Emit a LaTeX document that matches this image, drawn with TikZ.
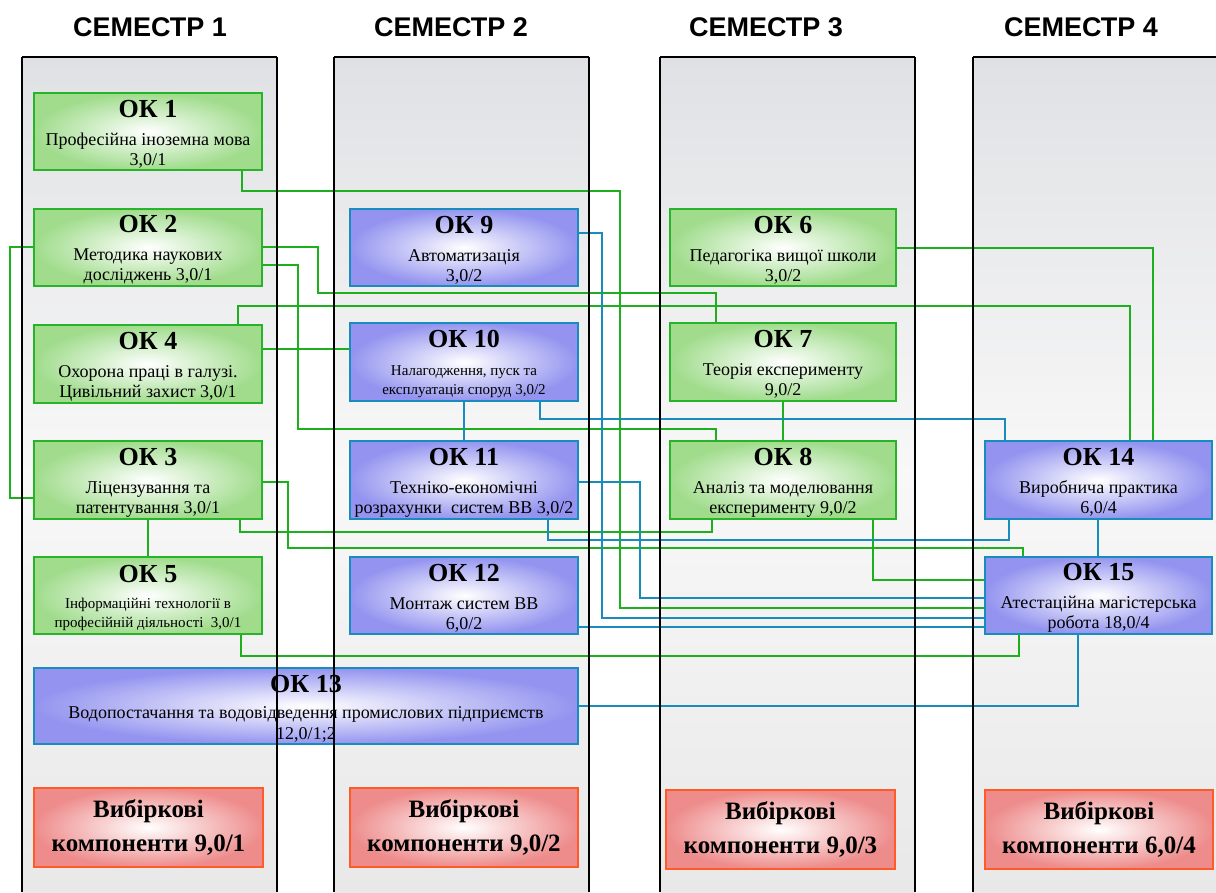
\documentclass[tikz,border=0pt]{standalone}
\usepackage{fontspec}
\setmainfont{Liberation Serif}
\newfontfamily\hdrfont{Liberation Sans}
\definecolor{gline}{RGB}{30,175,30}
\definecolor{gborder}{RGB}{40,180,40}
\definecolor{gfill}{RGB}{160,220,140}
\definecolor{bline}{RGB}{25,140,190}
\definecolor{bfill}{RGB}{148,148,240}
\definecolor{rborder}{RGB}{255,90,40}
\definecolor{rfill}{RGB}{238,140,140}
\definecolor{colA}{RGB}{224,225,228}
\definecolor{colB}{RGB}{248,248,248}
\definecolor{colC}{RGB}{232,232,232}
\newcommand\oktitle[1]{{\fontsize{26}{26}\selectfont\bfseries\rule{0pt}{22pt}#1}}
\begin{document}
\begin{tikzpicture}[x=1pt,y=-1pt,
  box/.style={draw, line width=1.7pt, inner sep=0pt, align=center,
    font=\fontsize{18}{20}\selectfont, minimum height=77pt},
  gbox/.style={box, draw=gborder, inner color=white, outer color=gfill},
  bbox/.style={box, draw=bline, inner color=white, outer color=bfill},
  rbox/.style={box, draw=rborder, inner color=white, outer color=rfill,
    font=\fontsize{25}{34}\selectfont\bfseries, minimum height=79pt},
  gcon/.style={draw=gline, line width=1.8pt},
  bcon/.style={draw=bline, line width=1.8pt},
  colpanel/.style={top color=colA, bottom color=colC, middle color=colB},
  colborder/.style={draw=black, line width=1.4pt},
  coltop/.style={draw=black, line width=2.4pt},
  hdr/.style={font=\hdrfont\bfseries\fontsize{27}{30}\selectfont, inner sep=0pt}
]
\useasboundingbox (0,0) rectangle (1216,892);
\clip (0,0) rectangle (1216,892);

% semester panels
\fill[colpanel] (22,57) rectangle (277,892);
\fill[colpanel] (334,57) rectangle (589,892);
\fill[colpanel] (660,57) rectangle (915,892);
\fill[colpanel] (973,57) rectangle (1230,892);

% headers
\node[hdr] (h1) at (150,27) {СЕМЕСТР 1};
\node[hdr] (h2) at (451,27) {СЕМЕСТР 2};
\node[hdr] (h3) at (766,27) {СЕМЕСТР 3};
\node[hdr] (h4) at (1081,27) {СЕМЕСТР 4};

% boxes, semester 1
\node[gbox, minimum width=228pt] (ok1) at (148,131.5) {\oktitle{ОК 1}\\[8pt]Професійна іноземна мова\\3,0/1};
\node[gbox, minimum width=228pt] (ok2) at (148,247.5) {\oktitle{ОК 2}\\[8pt]Методика наукових\\досліджень 3,0/1};
\node[gbox, minimum width=228pt, minimum height=78pt] (ok4) at (148,364) {\oktitle{ОК 4}\\[8pt]Охорона праці в галузі.\\Цивільний захист 3,0/1};
\node[gbox, minimum width=228pt, minimum height=78pt] (ok3) at (148,480) {\oktitle{ОК 3}\\[8pt]Ліцензування та\\патентування 3,0/1};
\node[gbox, minimum width=228pt, font=\fontsize{15}{19}\selectfont] (ok5) at (148,595.5) {\oktitle{ОК 5}\\[7pt]Інформаційні технології в\\професійній діяльності~~3,0/1};
\node[bbox, minimum width=544pt, minimum height=76pt, font=\fontsize{18}{21}\selectfont] (ok13) at (306,706) {\oktitle{ОК 13}\\[5pt]Водопостачання та водовідведення промислових підприємств\\12,0/1;2};
\node[rbox, minimum width=229pt] (v1) at (148.5,827.5) {Вибіркові\\компоненти 9,0/1};

% semester 2
\node[bbox, minimum width=228pt] (ok9) at (464,247.5) {\oktitle{ОК 9}\\[8pt]Автоматизація\\3,0/2};
\node[bbox, minimum width=228pt, minimum height=78pt, font=\fontsize{15}{19}\selectfont] (ok10) at (464,362) {\oktitle{ОК 10}\\[9pt]Налагодження, пуск та\\експлуатація споруд 3,0/2};
\node[bbox, minimum width=228pt, minimum height=78pt] (ok11) at (464,480) {\oktitle{ОК 11}\\[8pt]Техніко-економічні\\розрахунки~~систем ВВ 3,0/2};
\node[bbox, minimum width=228pt] (ok12) at (464,595.5) {\oktitle{ОК 12}\\[8pt]Монтаж систем ВВ\\6,0/2};
\node[rbox, minimum width=228pt] (v2) at (464,827.5) {Вибіркові\\компоненти 9,0/2};

% semester 3
\node[gbox, minimum width=226pt] (ok6) at (783,247.5) {\oktitle{ОК 6}\\[8pt]Педагогіка вищої школи\\3,0/2};
\node[gbox, minimum width=226pt, minimum height=78pt] (ok7) at (783,362) {\oktitle{ОК 7}\\[8pt]Теорія експерименту\\9,0/2};
\node[gbox, minimum width=226pt, minimum height=78pt] (ok8) at (783,480) {\oktitle{ОК 8}\\[8pt]Аналіз та моделювання\\експерименту 9,0/2};
\node[rbox, minimum width=229pt] (v3) at (780.5,829.5) {Вибіркові\\компоненти 9,0/3};

% semester 4
\node[bbox, minimum width=227pt, minimum height=78pt] (ok14) at (1098.5,480) {\oktitle{ОК 14}\\[8pt]Виробнича практика\\6,0/4};
\node[bbox, minimum width=227pt] (ok15) at (1098.5,595.5) {\oktitle{ОК 15}\\[8pt]Атестаційна магістерська\\робота 18,0/4};
\node[rbox, minimum width=228pt] (v4) at (1099,829.5) {Вибіркові\\компоненти 6,0/4};

% green connectors
\draw[gcon] (ok1.south -| 242,0) |- (620,191) |- (ok15.west |- 0,608);
\draw[gcon] (ok2.east |- 0,247) -| (318,293) -| (ok7.north -| 716,0);
\draw[gcon] (ok2.east |- 0,265) -| (298,429) -| (ok8.north -| 716,0);
\draw[gcon] (ok2.west |- 0,247) -| (10,498) -- (ok3.west |- 0,498);
\draw[gcon] (ok4.east |- 0,349) -- (ok10.west |- 0,349);
\draw[gcon] (ok4.north -| 238,0) |- (1130,306) -- (ok14.north -| 1130,0);
\draw[gcon] (ok3.south) -- (ok5.north);
\draw[gcon] (ok3.east |- 0,482) -| (288,548) -| (ok15.north -| 1023,0);
\draw[gcon] (ok3.south -| 240,0) |- (712,532) -- (ok8.south -| 712,0);
\draw[gcon] (ok5.south -| 241,0) |- (1019,656) -- (ok15.south -| 1019,0);
\draw[gcon] (ok6.east |- 0,248) -| (ok14.north -| 1153,0);
\draw[gcon] (ok7.south) -- (ok8.north);
\draw[gcon] (ok8.south -| 873,0) |- (ok15.west |- 0,580);

% blue connectors
\draw[bcon] (ok9.east |- 0,233) -| (602,618) -- (ok15.west |- 0,618);
\draw[bcon] (ok10.south) -- (ok11.north);
\draw[bcon] (ok10.south -| 540,0) |- (1005,419) -- (ok14.north -| 1005,0);
\draw[bcon] (ok11.east |- 0,482) -| (640,598) -- (ok15.west |- 0,598);
\draw[bcon] (ok11.south -| 548,0) |- (1009,540) -- (ok14.south -| 1009,0);
\draw[bcon] (ok12.east |- 0,627) -- (ok15.west |- 0,627);
\draw[bcon] (ok13.east |- 0,706) -| (ok15.south -| 1078,0);
\draw[bcon] (ok14.south -| 1098,0) -- (ok15.north -| 1098,0);

% panel borders (over boxes, as in the reference)
\draw[colborder] (22,892) -- (22,57);
\draw[colborder] (277,57) -- (277,892);
\draw[colborder] (334,892) -- (334,57);
\draw[colborder] (589,57) -- (589,892);
\draw[colborder] (660,892) -- (660,57);
\draw[colborder] (915,57) -- (915,892);
\draw[colborder] (973,892) -- (973,57);
\draw[coltop] (22,57) -- (277,57);
\draw[coltop] (334,57) -- (589,57);
\draw[coltop] (660,57) -- (915,57);
\draw[coltop] (973,57) -- (1230,57);
\end{tikzpicture}
\end{document}
